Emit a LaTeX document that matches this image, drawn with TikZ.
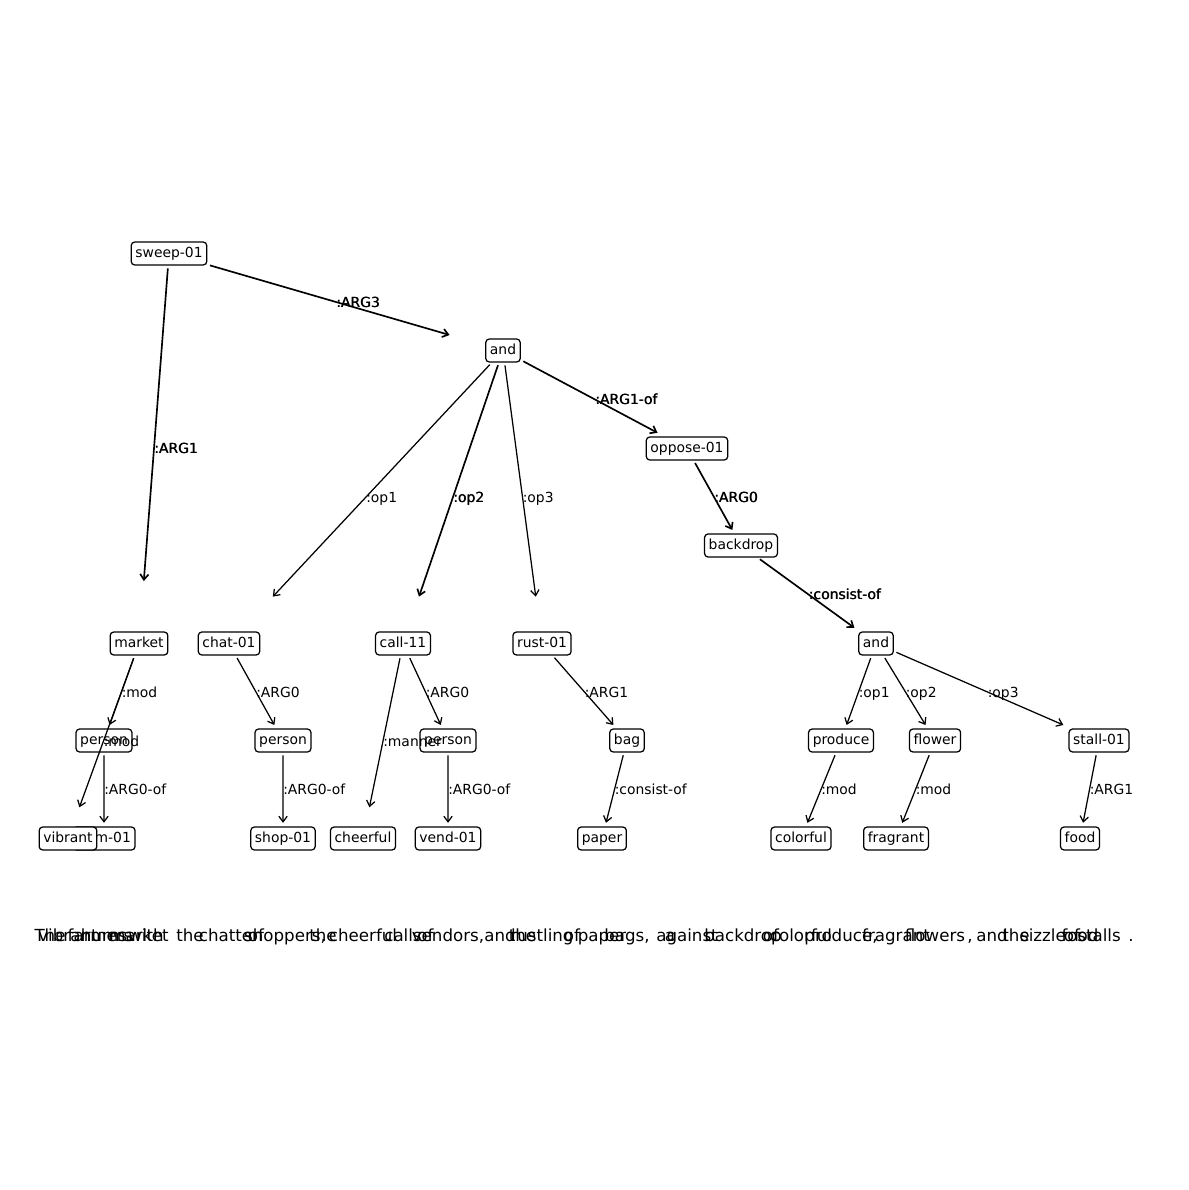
\documentclass[tikz,border=0pt]{standalone}
\usepackage{fontspec}
\setmainfont{DejaVu Sans}
\usetikzlibrary{arrows.meta,calc}
\begin{document}
\begin{tikzpicture}[x=0.72pt,y=-0.72pt,
  concept/.style={draw, rounded corners=2.5pt, fill=white, line width=0.9pt,
    inner sep=3pt, text height=8pt, text depth=2.5pt,
    font=\fontsize{10}{12}\selectfont},
  rel/.style={-{Straight Barb[length=4pt,width=6pt]}, line width=0.9pt, shorten <=2pt},
  relx/.style={rel, line width=1.2pt},
  rlabel/.style={anchor=west, inner sep=0pt, text height=7.3pt, text depth=0pt,
    font=\fontsize{10}{12}\selectfont},
  word/.style={anchor=base, inner sep=0pt, font=\fontsize{12}{14}\selectfont}]
\path[use as bounding box, fill=white] (0,0) rectangle (1189,1190);

% concepts
\node[concept] (sweep)    at (169,253.5) {sweep-01};
\node[concept] (and0)     at (503,350.5) {and};
\node[concept] (oppose)   at (687,448.5) {oppose-01};
\node[concept] (backdrop) at (741,545.5) {backdrop};
\node[concept] (market)   at (139,643.5) {market};
\node[concept] (chat)     at (229,643.5) {chat-01};
\node[concept] (call)     at (403,643.5) {call-11};
\node[concept] (rust)     at (542,643.5) {rust-01};
\node[concept] (and1)     at (876,643.5) {and};
\node[concept] (personA)  at (104,740.5) {person};
\node[concept] (personB)  at (283,740.5) {person};
\node[concept] (personC)  at (448,740.5) {person};
\node[concept] (bag)      at (627,740.5) {bag};
\node[concept] (produce)  at (841,740.5) {produce};
\node[concept] (flower)   at (935,740.5) {flower};
\node[concept] (stall)    at (1099,740.5) {stall-01};
\node[concept] (hum)      at (104,838.5) {hum-01};
\node[concept] (vibrant)  at (68,838.5) {vibrant};
\node[concept] (shop)     at (283,838.5) {shop-01};
\node[concept] (cheerful) at (363,838.5) {cheerful};
\node[concept] (vend)     at (448,838.5) {vend-01};
\node[concept] (paper)    at (602,838.5) {paper};
\node[concept] (colorful) at (801,838.5) {colorful};
\node[concept] (fragrant) at (896,838.5) {fragrant};
\node[concept] (food)     at (1080,838.5) {food};

% relations traced twice: heavier strokes and labels
\foreach \s/\t/\l in {sweep/and0/:ARG3, sweep/market/:ARG1, and0/call/:op2,
    and0/oppose/:ARG1-of, oppose/backdrop/:ARG0, backdrop/and1/:consist-of}{
  \draw[relx] (\s) -- ($(\s)!0.84!(\t)$);
  \node[rlabel] at ($(\s)!0.5!(\t)$) {\l};
  \node[rlabel, xshift=0.3pt] at ($(\s)!0.5!(\t)$) {\l};
}
% single relations
\foreach \s/\t/\l in {and0/chat/:op1, and0/rust/:op3,
    market/personA/:mod, market/vibrant/:mod, personA/hum/:ARG0-of,
    chat/personB/:ARG0, personB/shop/:ARG0-of,
    call/cheerful/:manner, call/personC/:ARG0, personC/vend/:ARG0-of,
    rust/bag/:ARG1, bag/paper/:consist-of,
    and1/produce/:op1, and1/flower/:op2, and1/stall/:op3,
    produce/colorful/:mod, flower/fragrant/:mod, stall/food/:ARG1}{
  \draw[rel] (\s) -- ($(\s)!0.84!(\t)$);
  \node[rlabel] at ($(\s)!0.5!(\t)$) {\l};
}

% sentence tokens, centred under their positions on a common baseline
\foreach \x/\w [count=\i] in {50/The, 68/vibrant, 100/farmers, 139/market,
    104/hums, 146/with, 190/the, 229/chatter, 256/of, 285/{shoppers,},
    323/the, 363/cheerful, 403/calls, 425.5/of, 448/{vendors,}, 500/and,
    522.5/the, 542/rustling, 572/of, 602/paper, 627/{bags,}, 687/against,
    670/a, 743/backdrop, 771/of, 801/colorful, 841/{produce,}, 896/fragrant,
    935/flowers, 970/{,}, 992/and, 1016/the, 1043/sizzle, 1072/of,
    1080/food, 1099/stalls, 1131/.}{
  \node[word] (tok\i) at (\x,941) {\w};
}
\end{tikzpicture}
\end{document}
